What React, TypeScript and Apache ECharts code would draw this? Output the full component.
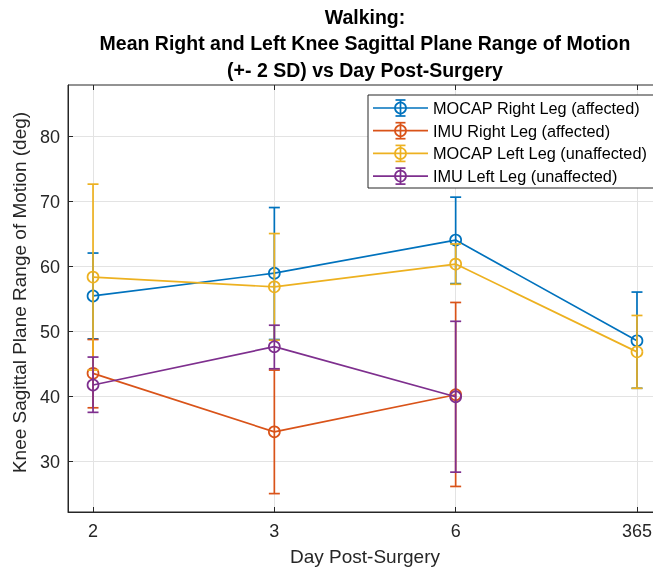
import React, { useEffect, useRef } from 'react';
import * as echarts from 'echarts';

const days = ['2', '3', '6', '365'];
const seriesNames = [
  'MOCAP Right Leg (affected)',
  'IMU Right Leg (affected)',
  'MOCAP Left Leg (unaffected)',
  'IMU Left Leg (unaffected)',
];
const colors = ['#0072BD', '#D95319', '#EDB120', '#7E2F8E'];

const mocapRightMean = [55.5, 59.0, 64.1, 48.6];
const mocapRightLow = [48.9, 48.8, 57.4, 41.3];
const mocapRightHigh = [62.1, 69.1, 70.7, 56.1];

const imuRightMean = [43.6, 34.6, 40.3, null];
const imuRightLow = [38.3, 25.1, 26.2, null];
const imuRightHigh = [48.8, 44.1, 54.5, null];

const mocapLeftMean = [58.4, 56.9, 60.4, 46.9];
const mocapLeftLow = [44.1, 48.7, 57.3, 41.3];
const mocapLeftHigh = [72.7, 65.1, 63.5, 52.5];

const imuLeftMean = [41.8, 47.7, 40.0, null];
const imuLeftLow = [37.6, 44.3, 28.4, null];
const imuLeftHigh = [46.1, 51.0, 51.6, null];

const yTicks = [30, 40, 50, 60, 70, 80];

const groups = [
  { mean: mocapRightMean, low: mocapRightLow, high: mocapRightHigh },
  { mean: imuRightMean, low: imuRightLow, high: imuRightHigh },
  { mean: mocapLeftMean, low: mocapLeftLow, high: mocapLeftHigh },
  { mean: imuLeftMean, low: imuLeftLow, high: imuLeftHigh },
];

const FONT = "'Liberation Sans', Arial, Helvetica, sans-serif";
const AX = '#262626';
const LW = 1.7;

export default function App() {
  const ref = useRef<HTMLDivElement>(null);
  useEffect(() => {
    if (!ref.current) return;
    const chart = echarts.init(ref.current, undefined, { renderer: 'svg' });
    const series: any[] = [];
    groups.forEach((g, k) => {
      const color = colors[k];
      const bars: number[][] = [];
      const pts: number[][] = [];
      g.mean.forEach((m, i) => {
        if (m == null) return;
        pts.push([i + 1, m as number]);
        bars.push([i + 1, g.low[i] as number, g.high[i] as number]);
      });
      series.push({
        type: 'custom',
        name: seriesNames[k] + ' err',
        silent: true,
        z: 2 + k * 2,
        encode: { x: 0, y: [1, 2] },
        data: bars,
        renderItem: (params: any, api: any) => {
          const x = api.value(0);
          const lo = api.coord([x, api.value(1)]);
          const hi = api.coord([x, api.value(2)]);
          const hw = 5.5;
          const style = { stroke: color, lineWidth: LW, fill: 'none' };
          return {
            type: 'group',
            children: [
              { type: 'line', shape: { x1: lo[0], y1: lo[1], x2: hi[0], y2: hi[1] }, style },
              { type: 'line', shape: { x1: lo[0] - hw, y1: lo[1], x2: lo[0] + hw, y2: lo[1] }, style },
              { type: 'line', shape: { x1: hi[0] - hw, y1: hi[1], x2: hi[0] + hw, y2: hi[1] }, style },
            ],
          };
        },
      });
      series.push({
        type: 'line',
        name: seriesNames[k],
        silent: true,
        z: 3 + k * 2,
        data: pts,
        symbol: 'circle',
        symbolSize: 11,
        showSymbol: true,
        itemStyle: { color: 'none', borderColor: color, borderWidth: LW },
        lineStyle: { color, width: LW },
      });
    });

    // legend drawn as graphic
    const lgLeft = 368;
    const lgTop = 95;
    const rowH = 22.7;
    const Z = 100;
    const legendChildren: any[] = [
      {
        type: 'rect',
        z: Z,
        shape: { x: lgLeft, y: lgTop, width: 300, height: 93 },
        style: { fill: '#fff', stroke: AX, lineWidth: 1 },
      },
    ];
    seriesNames.forEach((name, k) => {
      const cy = lgTop + 13 + k * rowH;
      const c = colors[k];
      const st = { stroke: c, lineWidth: LW, fill: 'none' };
      legendChildren.push(
        { type: 'line', z: Z + 1, shape: { x1: lgLeft + 5, y1: cy, x2: lgLeft + 60, y2: cy }, style: st },
        { type: 'line', z: Z + 1, shape: { x1: lgLeft + 32.5, y1: cy - 8, x2: lgLeft + 32.5, y2: cy + 8 }, style: st },
        { type: 'line', z: Z + 1, shape: { x1: lgLeft + 27.5, y1: cy - 8, x2: lgLeft + 37.5, y2: cy - 8 }, style: st },
        { type: 'line', z: Z + 1, shape: { x1: lgLeft + 27.5, y1: cy + 8, x2: lgLeft + 37.5, y2: cy + 8 }, style: st },
        { type: 'circle', z: Z + 1, shape: { cx: lgLeft + 32.5, cy, r: 5.5 }, style: st },
        {
          type: 'text',
          z: Z + 1,
          x: lgLeft + 65,
          y: cy,
          style: { text: name, fill: '#000', font: `16.3px ${FONT}`, textVerticalAlign: 'middle', verticalAlign: 'middle' },
        }
      );
    });

    chart.setOption({
      animation: false,
      title: {
        text: 'Walking:\nMean Right and Left Knee Sagittal Plane Range of Motion\n(+- 2 SD) vs Day Post-Surgery',
        left: 360,
        top: -1.5,
        textAlign: 'center',
        textStyle: { fontFamily: FONT, fontSize: 19.5, fontWeight: 'bold', color: '#000', lineHeight: 26.5 },
      },
      grid: {
        left: 68,
        top: 85,
        bottom: 62,
        right: 0,
        show: true,
        borderColor: AX,
        borderWidth: 1,
        backgroundColor: '#fff',
      },
      xAxis: [
        {
          type: 'value',
          min: 0.862,
          max: 4.138,
          name: 'Day Post-Surgery',
          nameLocation: 'middle',
          nameGap: 35,
          nameTextStyle: { fontFamily: FONT, fontSize: 19, color: AX },
          axisLine: { show: true, lineStyle: { color: AX, width: 1 } },
          axisTick: { show: true, inside: true, length: 5, lineStyle: { color: AX }, customValues: [1, 2, 3, 4] },
          axisLabel: {
            show: true,
            margin: 10,
            fontFamily: FONT,
            fontSize: 18,
            color: AX,
            customValues: [1, 2, 3, 4],
            formatter: (v: number) => days[Math.round(v) - 1] ?? '',
          },
          splitLine: { show: true, lineStyle: { color: '#e3e3e3', width: 1 } },
        },
        {
          type: 'value',
          position: 'top',
          min: 0.862,
          max: 4.138,
          axisLine: { show: false },
          axisTick: { show: true, inside: true, length: 5, lineStyle: { color: AX }, customValues: [1, 2, 3, 4] },
          axisLabel: { show: false },
          splitLine: { show: false },
        },
      ],
      yAxis: {
        type: 'value',
        min: 22.27,
        max: 87.95,
        name: 'Knee Sagittal Plane Range of Motion (deg)',
        nameLocation: 'middle',
        nameGap: 36,
        nameTextStyle: { fontFamily: FONT, fontSize: 19, color: AX, padding: [0, 0, 0, 12] },
        axisLine: { show: true, lineStyle: { color: AX, width: 1 } },
        axisTick: { show: true, inside: true, length: 5, lineStyle: { color: AX }, customValues: yTicks },
        axisLabel: { show: true, margin: 8, fontFamily: FONT, fontSize: 18, color: AX, customValues: yTicks },
        splitLine: { show: true, lineStyle: { color: '#e3e3e3', width: 1 } },
      },
      graphic: [{ type: 'group', z: Z, children: legendChildren }],
      series,
    });
    return () => chart.dispose();
  }, []);
  return <div ref={ref} style={{ position: 'fixed', left: 0, top: 0, width: 662, height: 574 }} />;
}
